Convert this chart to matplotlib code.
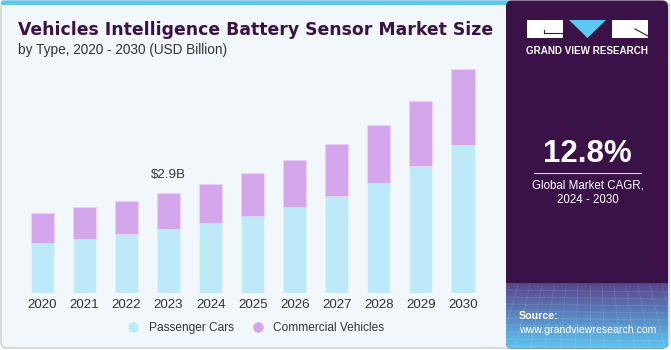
import matplotlib.pyplot as plt
import numpy as np
from matplotlib.patches import FancyBboxPatch, Rectangle, Polygon
from matplotlib.lines import Line2D

plt.rcParams['font.family'] = ['Liberation Sans', 'DejaVu Sans']

years = ["2020", "2021", "2022", "2023", "2024", "2025", "2026", "2027", "2028", "2029", "2030"]
passenger_cars = [1.46, 1.57, 1.71, 1.86, 2.04, 2.25, 2.50, 2.83, 3.21, 3.69, 4.30]
commercial_vehicles = [0.86, 0.93, 0.97, 1.04, 1.12, 1.23, 1.37, 1.49, 1.68, 1.90, 2.20]
series_names = ["Passenger Cars", "Commercial Vehicles"]
highlight_year = "2023"
highlight_label = "$2.9B"
cagr = "12.8%"

blue = "#BDE9F9"
purple = "#D4A7EC"
dark = "#3A1248"
cyan = "#5BC8F0"
page = "#F2F7FB"

W, H = 671, 350
fig = plt.figure(figsize=(W / 100, H / 100), dpi=100)
fig.patch.set_facecolor("white")

# background layer in pixel coordinates
bg = fig.add_axes([0, 0, 1, 1], zorder=0)
bg.set_xlim(0, W)
bg.set_ylim(H, 0)
bg.axis("off")

bg.add_patch(FancyBboxPatch((1, 1), W - 3, H - 3, boxstyle="round,pad=0,rounding_size=6",
                            facecolor=page, edgecolor="#C8CCD0", linewidth=1))
bg.add_patch(FancyBboxPatch((1, 0.5), 510, 4.5, boxstyle="round,pad=0,rounding_size=2",
                            facecolor=cyan, edgecolor="none"))

# right panel
panel = FancyBboxPatch((506, 0.5), 162, 348, boxstyle="round,pad=0,rounding_size=6",
                       facecolor=dark, edgecolor="none")
bg.add_patch(panel)
grad = np.linspace(0, 1, 100)[:, None]
top_c = np.array([0x55, 0x45, 0x8C]) / 255
bot_c = np.array([0x5F, 0xC6, 0xF2]) / 255
img = top_c[None, None, :] * (1 - grad[..., None]) + bot_c[None, None, :] * grad[..., None]
img = np.repeat(img, 2, axis=1)
im = bg.imshow(img, extent=[506, 668, 349, 283], aspect="auto", zorder=2)
im.set_clip_path(panel)
# faint mesh lines in the source box
for k in range(9):
    yy = 290 + k * 7
    bg.add_line(Line2D([506, 668], [yy, yy + 2], color="white", alpha=0.12, lw=0.6, zorder=3))
for k in range(14):
    xx = 506 + k * 12
    bg.add_line(Line2D([xx, xx + (k - 7) * 3], [285, 349], color="white", alpha=0.12, lw=0.6, zorder=3))
bg.set_xlim(0, W)
bg.set_ylim(H, 0)

# logo
bg.add_patch(Rectangle((527, 20), 36, 18, facecolor="white", edgecolor="none", zorder=4))
bg.add_line(Line2D([544, 563], [32.5, 32.5], color=dark, lw=0.8, zorder=5))
bg.add_line(Line2D([544, 544], [30, 33], color=dark, lw=0.8, zorder=5))
bg.add_patch(Polygon([[569, 20], [606, 20], [587.5, 38]], closed=True, facecolor=cyan,
                     edgecolor="none", zorder=4))
bg.add_patch(Rectangle((612, 20), 36, 18, facecolor="white", edgecolor="none", zorder=4))
bg.add_line(Line2D([635, 648], [29, 36], color=dark, lw=0.8, zorder=5))
bg.text(587.5, 51, "GRAND VIEW RESEARCH", color="white", fontsize=7.1, fontweight="bold",
        ha="center", va="center", zorder=5)

bg.text(587.5, 154, cagr, color="white", fontsize=22.5, fontweight="bold", ha="center", va="center", zorder=5)
bg.add_line(Line2D([534, 641], [173, 173], color="white", lw=0.8, alpha=0.8, zorder=5))
bg.text(587.5, 186, "Global Market CAGR,", color="white", fontsize=8.3, ha="center", va="center", zorder=5)
bg.text(587.5, 200, "2024 - 2030", color="white", fontsize=8.3, ha="center", va="center", zorder=5)
bg.text(519, 316, "Source:", color="white", fontsize=7.7, fontweight="bold", ha="left", va="center", zorder=5)
bg.text(519, 330, "www.grandviewresearch.com", color="white", fontsize=7.6, ha="left", va="center", zorder=5)

# titles
bg.text(18, 35, "Vehicles Intelligence Battery Sensor Market Size", color=dark, fontsize=12.45,
        fontweight="bold", family="DejaVu Sans", ha="left", va="baseline", zorder=5)
bg.text(18, 54, "by Type, 2020 - 2030 (USD Billion)", color="#333333", fontsize=9.8,
        ha="left", va="baseline", zorder=5)

# bar chart
ax = fig.add_axes([17.3 / W, (H - 293.3) / H, 470.9 / W, 241 / H], zorder=1)
ax.patch.set_alpha(0)
x = np.arange(len(years))
ax.bar(x, passenger_cars, width=0.55, color=blue, edgecolor="#E6F5FC", linewidth=0.5,
       label=series_names[0])
ax.bar(x, commercial_vehicles, width=0.55, bottom=passenger_cars, color=purple,
       edgecolor="#E9D6F4", linewidth=0.5, label=series_names[1])
ax.set_xlim(-0.6, len(years) - 0.4)
ax.set_ylim(0, 241 * 0.029)
ax.set_xticks(x)
ax.set_xticklabels(years, fontsize=9.6, color="#333333")
ax.tick_params(axis="x", length=0, pad=4)
ax.set_yticks([])
for s in ax.spines.values():
    s.set_visible(False)

i = years.index(highlight_year)
total = passenger_cars[i] + commercial_vehicles[i]
ax.annotate(highlight_label, (x[i], total), xytext=(0, 9), textcoords="offset points",
            ha="center", va="bottom", fontsize=9.6, color="#333333")

handles = [Line2D([], [], marker="o", linestyle="none", markersize=7.5, markerfacecolor=c,
                  markeredgecolor="none") for c in (blue, purple)]
ax.legend(handles, series_names, loc="center", bbox_to_anchor=(0.5, -0.145), ncol=2,
          frameon=False, fontsize=8.6, handletextpad=0.3, columnspacing=1.0,
          labelcolor="#333333")

fig.savefig("out.png", dpi=100)
